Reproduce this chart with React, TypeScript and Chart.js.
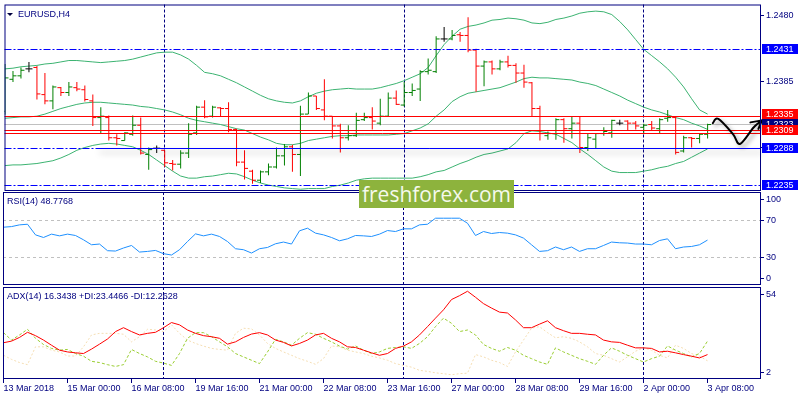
import React, { useEffect, useRef } from 'react';
import { Chart, registerables } from 'chart.js';

Chart.register(...registerables);

// ---------------- data ----------------
const xTickBars = [0, 8, 16, 24, 32, 40, 48, 56, 64, 72, 80, 88];
const xTickLabels = ['13 Mar 2018', '15 Mar 00:00', '16 Mar 08:00', '19 Mar 16:00', '21 Mar 00:00', '22 Mar 08:00',
  '23 Mar 16:00', '27 Mar 00:00', '28 Mar 08:00', '29 Mar 16:00', '2 Apr 00:00', '3 Apr 08:00'];
const weekStartBars = [20, 50, 80];

const opens = [
  1.2342, 1.2388, 1.2393, 1.2403, 1.2405, 1.2366, 1.2357, 1.2376, 1.2369, 1.2376,
  1.2373, 1.2357, 1.2333, 1.2333, 1.2304, 1.2300, 1.2309, 1.2322, 1.2280, 1.2289,
  1.2286, 1.2267, 1.2266, 1.2282, 1.2311, 1.2348, 1.2335, 1.2347, 1.2346, 1.2316,
  1.2269, 1.2256, 1.2243, 1.2255, 1.2262, 1.2278, 1.2291, 1.2280, 1.2338, 1.2364,
  1.2344, 1.2335, 1.2321, 1.2304, 1.2307, 1.2330, 1.2333, 1.2325, 1.2335, 1.2361,
  1.2351, 1.2369, 1.2374, 1.2399, 1.2399, 1.2446, 1.2446, 1.2452, 1.2451, 1.2430,
  1.2407, 1.2413, 1.2403, 1.2413, 1.2408, 1.2397, 1.2383, 1.2346, 1.2307, 1.2310,
  1.2330, 1.2317, 1.2325, 1.2290, 1.2302, 1.2310, 1.2311, 1.2325, 1.2328, 1.2325,
  1.2319, 1.2323, 1.2317, 1.2332, 1.2333, 1.2285, 1.2304, 1.2303, 1.2309];
const highs = [
  1.2410, 1.2400, 1.2405, 1.2413, 1.2407, 1.2397, 1.2379, 1.2377, 1.2384, 1.2384,
  1.2379, 1.2366, 1.2348, 1.2336, 1.2309, 1.2312, 1.2336, 1.2333, 1.2290, 1.2293,
  1.2286, 1.2272, 1.2286, 1.2325, 1.2350, 1.2358, 1.2350, 1.2348, 1.2355, 1.2317,
  1.2286, 1.2258, 1.2257, 1.2267, 1.2290, 1.2295, 1.2294, 1.2350, 1.2369, 1.2364,
  1.2388, 1.2335, 1.2324, 1.2322, 1.2340, 1.2340, 1.2348, 1.2360, 1.2369, 1.2372,
  1.2384, 1.2382, 1.2401, 1.2418, 1.2450, 1.2463, 1.2459, 1.2456, 1.2477, 1.2432,
  1.2415, 1.2415, 1.2416, 1.2422, 1.2411, 1.2409, 1.2384, 1.2350, 1.2313, 1.2332,
  1.2332, 1.2335, 1.2335, 1.2310, 1.2311, 1.2319, 1.2330, 1.2330, 1.2329, 1.2328,
  1.2324, 1.2328, 1.2332, 1.2344, 1.2335, 1.2307, 1.2305, 1.2310, 1.2324];
const lows = [
  1.2337, 1.2384, 1.2389, 1.2398, 1.2359, 1.2352, 1.2345, 1.2364, 1.2364, 1.2371,
  1.2356, 1.2321, 1.2310, 1.2300, 1.2293, 1.2300, 1.2307, 1.2280, 1.2258, 1.2282,
  1.2262, 1.2257, 1.2260, 1.2275, 1.2308, 1.2332, 1.2333, 1.2335, 1.2312, 1.2263,
  1.2244, 1.2238, 1.2239, 1.2250, 1.2260, 1.2264, 1.2255, 1.2249, 1.2338, 1.2344,
  1.2329, 1.2303, 1.2283, 1.2300, 1.2305, 1.2328, 1.2316, 1.2322, 1.2335, 1.2351,
  1.2349, 1.2364, 1.2357, 1.2395, 1.2397, 1.2442, 1.2444, 1.2442, 1.2427, 1.2370,
  1.2378, 1.2395, 1.2401, 1.2405, 1.2383, 1.2376, 1.2335, 1.2300, 1.2301, 1.2301,
  1.2297, 1.2303, 1.2282, 1.2285, 1.2288, 1.2307, 1.2304, 1.2322, 1.2315, 1.2316,
  1.2309, 1.2315, 1.2310, 1.2327, 1.2280, 1.2283, 1.2290, 1.2296, 1.2303];
const closes = [
  1.2390, 1.2393, 1.2401, 1.2403, 1.2367, 1.2357, 1.2377, 1.2369, 1.2377, 1.2374,
  1.2359, 1.2333, 1.2335, 1.2304, 1.2303, 1.2311, 1.2322, 1.2282, 1.2287, 1.2289,
  1.2268, 1.2266, 1.2282, 1.2309, 1.2348, 1.2334, 1.2348, 1.2346, 1.2316, 1.2269,
  1.2260, 1.2243, 1.2255, 1.2262, 1.2278, 1.2291, 1.2280, 1.2338, 1.2364, 1.2346,
  1.2335, 1.2321, 1.2304, 1.2307, 1.2329, 1.2333, 1.2328, 1.2335, 1.2361, 1.2352,
  1.2369, 1.2372, 1.2399, 1.2401, 1.2446, 1.2446, 1.2451, 1.2451, 1.2430, 1.2407,
  1.2413, 1.2403, 1.2413, 1.2408, 1.2397, 1.2384, 1.2346, 1.2310, 1.2310, 1.2330,
  1.2317, 1.2325, 1.2290, 1.2304, 1.2310, 1.2313, 1.2329, 1.2325, 1.2325, 1.2321,
  1.2322, 1.2318, 1.2330, 1.2333, 1.2283, 1.2304, 1.2303, 1.2309, 1.2323];

const bbUpper = [
  1.2403, 1.2404, 1.2406, 1.2407, 1.2408, 1.2410, 1.2411, 1.2413, 1.2415, 1.2415,
  1.2414, 1.2413, 1.2412, 1.2413, 1.2414, 1.2415, 1.2417, 1.2420, 1.2423, 1.2426,
  1.2427, 1.2427, 1.2423, 1.2417, 1.2408, 1.2398, 1.2396, 1.2393, 1.2388, 1.2383,
  1.2377, 1.2371, 1.2365, 1.2360, 1.2357, 1.2355, 1.2354, 1.2357, 1.2363, 1.2368,
  1.2371, 1.2373, 1.2374, 1.2375, 1.2374, 1.2374, 1.2374, 1.2376, 1.2379, 1.2382,
  1.2386, 1.2391, 1.2396, 1.2405, 1.2422, 1.2438, 1.2450, 1.2460, 1.2464, 1.2466,
  1.2469, 1.2473, 1.2474, 1.2476, 1.2475, 1.2473, 1.2469, 1.2468, 1.2470, 1.2474,
  1.2476, 1.2479, 1.2483, 1.2485, 1.2486, 1.2485, 1.2481, 1.2471, 1.2459, 1.2445,
  1.2431, 1.2422, 1.2413, 1.2403, 1.2391, 1.2377, 1.2360, 1.2344, 1.2338];
const bbMiddle = [
  1.2332, 1.2333, 1.2334, 1.2334, 1.2335, 1.2338, 1.2342, 1.2346, 1.2349, 1.2352,
  1.2354, 1.2355, 1.2355, 1.2354, 1.2353, 1.2352, 1.2351, 1.2349, 1.2348, 1.2346,
  1.2344, 1.2341, 1.2337, 1.2332, 1.2329, 1.2327, 1.2325, 1.2323, 1.2320, 1.2317,
  1.2315, 1.2310, 1.2305, 1.2301, 1.2296, 1.2294, 1.2294, 1.2296, 1.2300, 1.2302,
  1.2304, 1.2306, 1.2307, 1.2307, 1.2308, 1.2308, 1.2308, 1.2308, 1.2308, 1.2309,
  1.2310, 1.2314, 1.2318, 1.2324, 1.2335, 1.2344, 1.2356, 1.2363, 1.2368, 1.2370,
  1.2372, 1.2374, 1.2376, 1.2380, 1.2384, 1.2389, 1.2391, 1.2390, 1.2390, 1.2389,
  1.2388, 1.2387, 1.2384, 1.2382, 1.2379, 1.2374, 1.2369, 1.2364, 1.2358, 1.2353,
  1.2348, 1.2344, 1.2341, 1.2337, 1.2333, 1.2330, 1.2325, 1.2321, 1.2316];
const bbLower = [
  1.2264, 1.2265, 1.2265, 1.2266, 1.2267, 1.2269, 1.2271, 1.2275, 1.2280, 1.2286,
  1.2290, 1.2293, 1.2295, 1.2296, 1.2295, 1.2293, 1.2291, 1.2286, 1.2280, 1.2272,
  1.2264, 1.2256, 1.2249, 1.2246, 1.2246, 1.2248, 1.2249, 1.2251, 1.2253, 1.2252,
  1.2248, 1.2243, 1.2239, 1.2236, 1.2234, 1.2232, 1.2231, 1.2230, 1.2231, 1.2231,
  1.2231, 1.2234, 1.2236, 1.2239, 1.2243, 1.2245, 1.2246, 1.2246, 1.2246, 1.2246,
  1.2246, 1.2246, 1.2248, 1.2251, 1.2255, 1.2257, 1.2262, 1.2267, 1.2271, 1.2276,
  1.2280, 1.2282, 1.2285, 1.2288, 1.2297, 1.2310, 1.2314, 1.2313, 1.2311, 1.2309,
  1.2303, 1.2297, 1.2288, 1.2280, 1.2271, 1.2262, 1.2256, 1.2254, 1.2254, 1.2254,
  1.2256, 1.2258, 1.2261, 1.2263, 1.2267, 1.2270, 1.2276, 1.2282, 1.2288];

const rsiValues = [
  63.1, 63.8, 65.7, 66.4, 54.6, 51.7, 55.4, 53.5, 55.4, 53.9,
  49.1, 43.6, 44.4, 37.0, 36.6, 40.0, 42.8, 35.5, 36.2, 37.3,
  33.7, 32.2, 38.1, 47.2, 55.7, 53.5, 55.4, 52.8, 47.2, 39.2,
  38.1, 34.4, 39.2, 40.6, 44.7, 46.6, 44.4, 59.1, 62.0, 56.5,
  54.6, 51.7, 48.0, 50.2, 53.9, 53.5, 52.8, 55.4, 59.4, 58.3,
  61.3, 61.3, 65.7, 66.4, 73.1, 73.1, 73.1, 73.1, 67.5, 53.9,
  58.3, 56.1, 57.2, 56.5, 54.6, 51.0, 43.6, 36.2, 37.0, 41.1,
  38.1, 41.1, 36.2, 39.2, 39.2, 42.8, 46.6, 45.8, 45.5, 44.4,
  44.4, 43.6, 48.3, 50.2, 39.2, 41.1, 41.7, 43.6, 48.8];

const adxValues = [
  22.5, 23.4, 25.5, 28.4, 26.5, 24.0, 21.1, 18.3, 17.3, 16.8,
  16.4, 18.9, 21.7, 24.6, 28.8, 31.0, 28.8, 26.9, 27.8, 28.4,
  31.0, 33.9, 32.6, 29.7, 27.8, 26.5, 25.9, 25.0, 21.7, 23.0,
  25.5, 27.4, 28.2, 26.9, 24.0, 22.7, 20.7, 22.1, 24.0, 26.9,
  27.8, 25.0, 23.0, 20.2, 19.8, 18.3, 16.8, 15.4, 16.4, 19.3,
  20.6, 23.0, 26.9, 31.6, 36.4, 41.1, 46.9, 49.1, 51.6, 48.2,
  44.6, 42.1, 39.8, 39.3, 35.4, 31.0, 31.0, 33.0, 34.9, 31.0,
  29.3, 27.8, 27.8, 27.3, 26.9, 24.0, 23.0, 22.7, 21.1, 19.6,
  19.6, 19.3, 17.3, 17.7, 16.8, 15.8, 14.9, 13.9, 15.8];
const plusDI = [
  28.2, 24.0, 26.9, 30.1, 25.0, 21.5, 19.3, 18.3, 18.7, 16.4,
  14.9, 12.0, 11.3, 10.1, 9.1, 10.1, 18.7, 16.4, 14.5, 12.0,
  11.0, 9.7, 16.4, 25.0, 28.2, 28.2, 25.9, 23.0, 20.2, 16.4,
  14.5, 12.6, 10.7, 17.3, 24.4, 23.0, 21.1, 25.0, 28.2, 27.3,
  25.0, 23.0, 20.6, 18.9, 20.7, 18.3, 16.4, 17.3, 19.3, 19.8,
  20.2, 19.3, 22.1, 25.9, 31.6, 36.4, 33.5, 28.8, 29.7, 26.9,
  21.5, 19.3, 17.7, 19.8, 18.3, 15.4, 13.5, 11.6, 10.3, 19.6,
  17.3, 15.4, 13.5, 12.0, 10.3, 15.4, 19.6, 17.7, 15.4, 13.5,
  11.6, 13.5, 14.9, 20.7, 18.3, 16.4, 14.5, 16.4, 23.4];
const minusDI = [
  15.4, 13.1, 11.3, 10.1, 20.2, 20.2, 18.3, 17.3, 15.0, 15.0,
  20.2, 26.9, 27.8, 27.8, 27.8, 27.3, 23.0, 25.9, 30.1, 29.7,
  28.8, 32.6, 27.8, 24.0, 22.1, 20.6, 19.3, 18.7, 18.3, 27.8,
  30.7, 30.3, 26.9, 22.1, 19.3, 17.3, 15.4, 13.5, 12.0, 10.3,
  13.5, 20.7, 20.2, 18.3, 17.3, 16.4, 14.9, 13.9, 12.6, 10.7,
  9.7, 8.7, 6.9, 6.3, 5.5, 5.0, 4.4, 5.0, 5.3, 15.8,
  14.5, 12.6, 11.3, 9.1, 17.3, 24.0, 30.7, 31.6, 28.2, 25.3,
  25.9, 25.0, 23.0, 20.2, 16.4, 15.4, 13.5, 11.6, 14.5, 17.7,
  19.6, 18.3, 15.4, 13.9, 21.1, 19.3, 16.4, 14.9, 12.3];

const priceTicks = [1.2480, 1.2385, 1.2290];
const rsiTicks = [100, 70, 30, 0];
const rsiLevels = [70, 30];
const adxTicks = [54, 2];

const bidPrice = 1.2323;
const redLines = [1.2335, 1.2314, 1.2310];
const dashDotLines = [1.2431, 1.2288, 1.2235];
const supportStartBar = 11.6;
const supportPrice = 1.2288;
const blueMarkers = [1.2431, 1.2288, 1.2235];
const redMarkers = [1.2335, 1.2309];
const forecastPath = [
  [88.65, 1.2325], [89.35, 1.2331], [91.2, 1.2309], [92.05, 1.2295],
  [93.7, 1.2318], [94.35, 1.2325], [94.8, 1.2329]];

const mainTitle = 'EURUSD,H4';
const rsiTitle = 'RSI(14) 48.7768';
const adxTitle = 'ADX(14) 16.3438 +DI:23.4466 -DI:12.2628';

// ---------------- style ----------------
const NAVY = '#000080';
const FONT = 'Liberation Sans';
const GREEN = '#008000';
const RED = '#ff0000';
const BLUE = '#0000ff';
const BAND = '#3cb371';
const X_MIN = -0.0625;
const X_MAX = 94.6875;
const PAD_L = 3;
const PAD_R = 39;
const markerNudge: Record<string, number> = { '1.2335': -2, '1.2309': -4 };

const crisp = (v: number) => Math.floor(v) + 0.5;

type Level = { value: number; color: string; dash: number[]; fromBar?: number; shadow?: boolean };
type Marker = { value: number; bg: string };
type PanelCfg = {
  title: string;
  titleX: number;
  triangle?: boolean;
  yLabels: number[];
  fmt: (v: number) => string;
  under?: Level[];
  over?: Level[];
  markers?: Marker[];
  arrow?: number[][];
};

function drawLevel(ctx: any, a: any, x: any, y: any, l: Level) {
  const py = crisp(y.getPixelForValue(l.value));
  const x0 = l.fromBar !== undefined ? x.getPixelForValue(l.fromBar) : a.left;
  ctx.save();
  if (l.shadow) {
    ctx.shadowColor = 'rgba(0,0,0,0.38)';
    ctx.shadowBlur = 6;
    ctx.shadowOffsetX = 2;
    ctx.shadowOffsetY = 4;
  }
  ctx.strokeStyle = l.color;
  ctx.lineWidth = 1;
  ctx.setLineDash(l.dash);
  ctx.beginPath();
  ctx.moveTo(x0, py);
  ctx.lineTo(a.right, py);
  ctx.stroke();
  ctx.restore();
}

function panelPlugin(cfg: PanelCfg) {
  return {
    id: 'mtPanel',
    beforeDatasetsDraw(chart: any) {
      const { ctx, chartArea: a, scales } = chart;
      const x = scales.x, y = scales.y;
      (cfg.under || []).forEach((l) => drawLevel(ctx, a, x, y, l));
      ctx.save();
      ctx.strokeStyle = NAVY;
      ctx.lineWidth = 1;
      ctx.setLineDash([3, 2]);
      weekStartBars.forEach((b) => {
        const px = crisp(x.getPixelForValue(b));
        ctx.beginPath();
        ctx.moveTo(px, a.top);
        ctx.lineTo(px, a.bottom);
        ctx.stroke();
      });
      ctx.restore();
    },
    afterDatasetsDraw(chart: any) {
      const { ctx, chartArea: a, scales } = chart;
      const x = scales.x, y = scales.y;
      (cfg.over || []).forEach((l) => drawLevel(ctx, a, x, y, l));

      if (cfg.arrow) {
        const pts = cfg.arrow.map(([b, p]) => [x.getPixelForValue(b), y.getPixelForValue(p)]);
        ctx.save();
        ctx.shadowColor = 'rgba(0,0,0,0.35)';
        ctx.shadowBlur = 4;
        ctx.shadowOffsetX = 3;
        ctx.shadowOffsetY = 3;
        ctx.strokeStyle = '#000000';
        ctx.lineWidth = 2;
        ctx.lineJoin = 'round';
        ctx.lineCap = 'round';
        ctx.beginPath();
        ctx.moveTo(pts[0][0], pts[0][1]);
        for (let i = 0; i < pts.length - 1; i++) {
          const p0 = pts[i - 1] || pts[i];
          const p1 = pts[i];
          const p2 = pts[i + 1];
          const p3 = pts[i + 2] || p2;
          ctx.bezierCurveTo(
            p1[0] + (p2[0] - p0[0]) / 6, p1[1] + (p2[1] - p0[1]) / 6,
            p2[0] - (p3[0] - p1[0]) / 6, p2[1] - (p3[1] - p1[1]) / 6,
            p2[0], p2[1]);
        }
        const t = pts[pts.length - 1];
        ctx.moveTo(t[0] - 11.5, t[1] + 2);
        ctx.lineTo(t[0], t[1]);
        ctx.lineTo(t[0] - 3.5, t[1] + 8.5);
        ctx.stroke();
        ctx.restore();
      }

      ctx.save();
      ctx.setLineDash([]);
      ctx.lineWidth = 1;
      ctx.strokeStyle = NAVY;
      ctx.strokeRect(a.left + 0.5, a.top + 0.5, a.right - a.left - 1, a.bottom - a.top - 1);

      ctx.font = `9px "${FONT}"`;
      ctx.textBaseline = 'middle';
      ctx.textAlign = 'left';
      cfg.yLabels.forEach((v) => {
        let py = y.getPixelForValue(v);
        py = Math.min(Math.max(py, a.top + 7), a.bottom - 6.5);
        const ty = crisp(py);
        ctx.beginPath();
        ctx.moveTo(a.right, ty);
        ctx.lineTo(a.right + 3, ty);
        ctx.stroke();
        ctx.fillStyle = NAVY;
        ctx.fillText(cfg.fmt(v), a.right + 5, ty + 0.5);
      });

      (cfg.markers || []).forEach((m) => {
        const txt = m.value.toFixed(4);
        const row = Math.floor(y.getPixelForValue(m.value)) + (markerNudge[txt] || 0);
        ctx.fillStyle = m.bg;
        ctx.fillRect(a.right + 1, row - 5, 36, 10);
        ctx.fillStyle = '#ffffff';
        ctx.fillText(txt, a.right + 5, row + 0.5);
      });

      const ty = a.top + 10;
      ctx.fillStyle = NAVY;
      if (cfg.triangle) {
        ctx.fillStyle = '#000040';
        ctx.beginPath();
        ctx.moveTo(7, ty - 1.5);
        ctx.lineTo(13, ty - 1.5);
        ctx.lineTo(10, ty + 1.5);
        ctx.closePath();
        ctx.fill();
        ctx.fillStyle = NAVY;
      }
      ctx.fillText(cfg.title, cfg.titleX, ty);
      ctx.restore();
    },
  };
}

const hiddenY = (min: number, max: number) => ({ type: 'linear', min, max, display: false });
const hiddenX = () => ({ type: 'linear', min: X_MIN, max: X_MAX, offset: false, display: false });
const baseOptions = {
  responsive: false,
  animation: false,
  devicePixelRatio: 1,
  events: [],
  plugins: { legend: { display: false }, tooltip: { enabled: false } },
};
const series = (vals: number[]) => vals.map((v, i) => ({ x: i, y: v }));

function mainConfig(): any {
  const idx = opens.map((_, i) => i);
  const colors = idx.map((i) => (closes[i] > opens[i] ? GREEN : closes[i] < opens[i] ? RED : '#000000'));
  const tick = (vals: number[], rot: number) => ({
    type: 'line',
    data: series(vals),
    showLine: false,
    pointStyle: 'dash',
    pointRotation: rot,
    pointRadius: 3.5,
    pointHoverRadius: 3.5,
    pointBorderWidth: 1,
    pointBorderColor: colors,
    pointBackgroundColor: colors,
  });
  const band = (vals: number[]) => ({
    type: 'line', data: series(vals), borderColor: BAND, borderWidth: 1, pointRadius: 0, tension: 0,
  });
  return {
    type: 'bar',
    data: {
      datasets: [
        {
          type: 'bar',
          data: idx.map((i) => ({ x: i, y: [lows[i], highs[i]] })),
          backgroundColor: colors,
          barThickness: 1,
          borderWidth: 0,
          inflateAmount: 0,
        },
        tick(opens, 180),
        tick(closes, 0),
        band(bbUpper),
        band(bbMiddle),
        band(bbLower),
      ],
    },
    options: {
      ...baseOptions,
      layout: { padding: { left: PAD_L, right: PAD_R, top: 1, bottom: 209 } },
      scales: { x: hiddenX(), y: hiddenY(1.22275, 1.24955) },
    },
    plugins: [panelPlugin({
      title: mainTitle,
      titleX: 18,
      triangle: true,
      yLabels: priceTicks,
      fmt: (v) => v.toFixed(4),
      under: [{ value: bidPrice, color: '#c0c0c0', dash: [] }],
      over: [
        ...dashDotLines.map((v) => ({ value: v, color: BLUE, dash: [7, 2, 2, 2] })),
        { value: supportPrice, color: BLUE, dash: [], fromBar: supportStartBar, shadow: true },
        ...redLines.map((v) => ({ value: v, color: RED, dash: [] })),
      ],
      markers: [
        { value: bidPrice, bg: NAVY },
        ...blueMarkers.map((v) => ({ value: v, bg: BLUE })),
        ...redMarkers.map((v) => ({ value: v, bg: RED })),
      ],
      arrow: forecastPath,
    })],
  };
}

function rsiConfig(): any {
  return {
    type: 'line',
    data: {
      datasets: [{ data: series(rsiValues), borderColor: '#1e90ff', borderWidth: 1, pointRadius: 0 }],
    },
    options: {
      ...baseOptions,
      layout: { padding: { left: PAD_L, right: PAD_R, top: 192, bottom: 115 } },
      scales: { x: hiddenX(), y: hiddenY(-1.11, 102.22) },
    },
    plugins: [panelPlugin({
      title: rsiTitle,
      titleX: 7,
      yLabels: rsiTicks,
      fmt: (v) => String(v),
      under: rsiLevels.map((v) => ({ value: v, color: '#c0c0c0', dash: [3, 3] })),
    })],
  };
}

function adxConfig(): any {
  return {
    type: 'line',
    data: {
      datasets: [
        { data: series(adxValues), borderColor: RED, borderWidth: 1, pointRadius: 0 },
        { data: series(plusDI), borderColor: '#9acd32', borderWidth: 1, borderDash: [3, 2], pointRadius: 0 },
        { data: series(minusDI), borderColor: '#f5deb3', borderWidth: 1, borderDash: [2, 2], pointRadius: 0 },
      ],
    },
    options: {
      ...baseOptions,
      layout: { padding: { left: PAD_L, right: PAD_R, top: 287, bottom: 1 } },
      scales: {
        x: {
          type: 'linear',
          min: X_MIN,
          max: X_MAX,
          offset: false,
          position: 'bottom',
          afterBuildTicks: (s: any) => { s.ticks = xTickBars.map((v) => ({ value: v })); },
          afterFit: (s: any) => { s.height = 20; },
          ticks: {
            autoSkip: false,
            maxRotation: 0,
            minRotation: 0,
            align: 'start',
            padding: 0,
            color: NAVY,
            font: { family: FONT, size: 9 },
            callback: (v: number) => {
              const k = xTickBars.indexOf(v);
              return k >= 0 ? xTickLabels[k] : '';
            },
          },
          grid: { drawOnChartArea: false, drawTicks: true, tickLength: 4, color: NAVY },
          border: { display: false },
        },
        y: hiddenY(2, 54),
      },
    },
    plugins: [panelPlugin({
      title: adxTitle,
      titleX: 7,
      yLabels: adxTicks,
      fmt: (v) => String(v),
    })],
  };
}

export default function App() {
  const mainRef = useRef<HTMLCanvasElement>(null);
  const rsiRef = useRef<HTMLCanvasElement>(null);
  const adxRef = useRef<HTMLCanvasElement>(null);

  useEffect(() => {
    const charts = [
      new Chart(mainRef.current as HTMLCanvasElement, mainConfig()),
      new Chart(rsiRef.current as HTMLCanvasElement, rsiConfig()),
      new Chart(adxRef.current as HTMLCanvasElement, adxConfig()),
    ];
    return () => charts.forEach((c) => c.destroy());
  }, []);

  const layer: React.CSSProperties = { position: 'absolute', left: 0, top: 0, width: 800, height: 400 };
  return (
    <div style={{ position: 'fixed', left: 0, top: 0, width: 800, height: 400, background: '#ffffff', overflow: 'hidden' }}>
      <canvas ref={mainRef} width={800} height={400} style={layer} />
      <canvas ref={rsiRef} width={800} height={400} style={layer} />
      <canvas ref={adxRef} width={800} height={400} style={layer} />
      <div
        style={{
          position: 'absolute', left: 359, top: 180, width: 155, height: 28,
          background: '#8db33d', color: '#f5f9ec', fontFamily: '"Open Sans", sans-serif',
          fontSize: 21, lineHeight: '28px', textAlign: 'center', whiteSpace: 'nowrap',
        }}
      >
        freshforex.com
      </div>
    </div>
  );
}
